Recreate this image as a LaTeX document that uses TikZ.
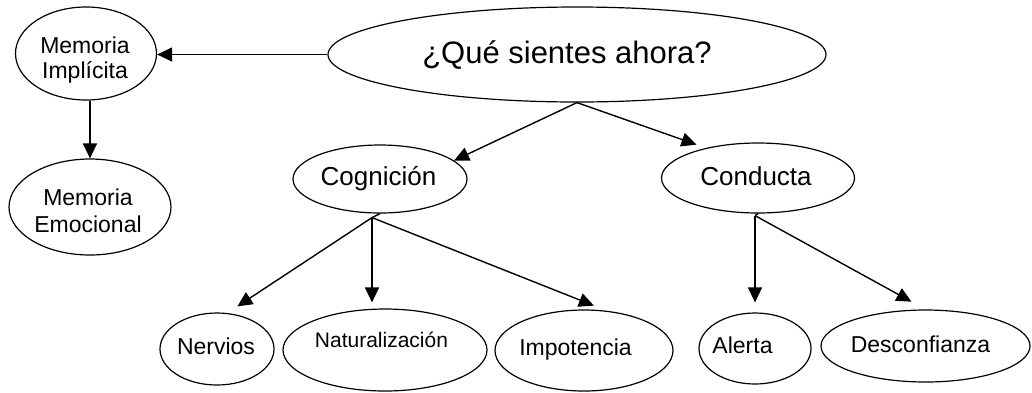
\documentclass[tikz,border=0pt]{standalone}
\usepackage{fontspec}
\setmainfont{Liberation Sans}
\usetikzlibrary{shapes.geometric,arrows.meta,calc}
\tikzset{
  ell/.style={draw, ellipse, line width=1.2pt, inner sep=0pt},
  txt/.style={anchor=base, inner sep=0pt},
  arr/.style={line width=1.4pt, -{Triangle[length=15pt,width=14pt]}},
  ln/.style={line width=1.4pt},
}
\newcommand{\fs}[1]{\fontsize{#1}{#1}\selectfont}
\begin{document}
\begin{tikzpicture}[x=1pt,y=-1pt]
\useasboundingbox (0,0) rectangle (1032,392);
% ellipses
\node[ell, minimum width=498pt, minimum height=95pt] (big) at (577,54.5) {};
\node[ell, minimum width=141pt, minimum height=93pt] (mi) at (86,53.5) {};
\node[ell, minimum width=162pt, minimum height=96pt] (me) at (90,207) {};
\node[ell, minimum width=174pt, minimum height=68pt] (cog) at (380,179) {};
\node[ell, minimum width=193pt, minimum height=70pt] (cond) at (758,178) {};
\node[ell, minimum width=114pt, minimum height=72pt] (nerv) at (217,349) {};
\node[ell, minimum width=204pt, minimum height=82pt] (nat) at (385,350) {};
\node[ell, minimum width=178pt, minimum height=81pt] (imp) at (584,350.5) {};
\node[ell, minimum width=112pt, minimum height=71pt] (al) at (755,348.5) {};
\node[ell, minimum width=209pt, minimum height=72pt] (desc) at (925.5,346) {};
% texts
\node[txt, font=\fs{31}] (tbig) at (567,63) {¿Qué sientes ahora?};
\node[txt, font=\fs{23}] (tmi1) at (85,53) {Memoria};
\node[txt, font=\fs{23}] (tmi2) at (85,78) {Implícita};
\node[txt, font=\fs{23}] (tme1) at (88,205) {Memoria};
\node[txt, font=\fs{23}] (tme2) at (88,232) {Emocional};
\node[txt, font=\fs{26}] (tcog) at (378.5,185) {Cognición};
\node[txt, font=\fs{26}] (tcond) at (756,185) {Conducta};
\node[txt, font=\fs{23}] (tnerv) at (216,354) {Nervios};
\node[txt, font=\fs{21}] (tnat) at (381.5,347) {Naturalización};
\node[txt, font=\fs{23}] (timp) at (575.5,355) {Impotencia};
\node[txt, font=\fs{23}] (tal) at (742.5,353) {Alerta};
\node[txt, font=\fs{23}] (tdesc) at (920.5,352) {Desconfianza};
% branch points
\coordinate (cogb) at ($(cog.south)+(-8,4)$);
\coordinate (condb) at ($(cond.south)+(-3,2)$);
% connectors
\draw[arr] (big.180.8) -- (big.180.8 -| mi.east);
\draw[arr] (me.north |- mi.south) -- (me.north);
\draw[arr] (big.south) -- (cog.14);
\draw[arr, shorten >=10pt] (big.south) -- (cond.150);
\draw[ln] (cog.south) -- (cogb);
\draw[ln] (cond.south) -- (condb);
\draw[arr, shorten >=12pt] (cogb) -- (nerv.74);
\draw[arr, shorten >=6pt] (cogb) -- (cogb |- nat.north);
\draw[arr, shorten >=14pt] (cogb) -- (imp.60);
\draw[arr, shorten >=10pt] (condb) -- (al.north);
\draw[arr, shorten >=16pt] (condb) -- (desc.north);
\end{tikzpicture}
\end{document}
